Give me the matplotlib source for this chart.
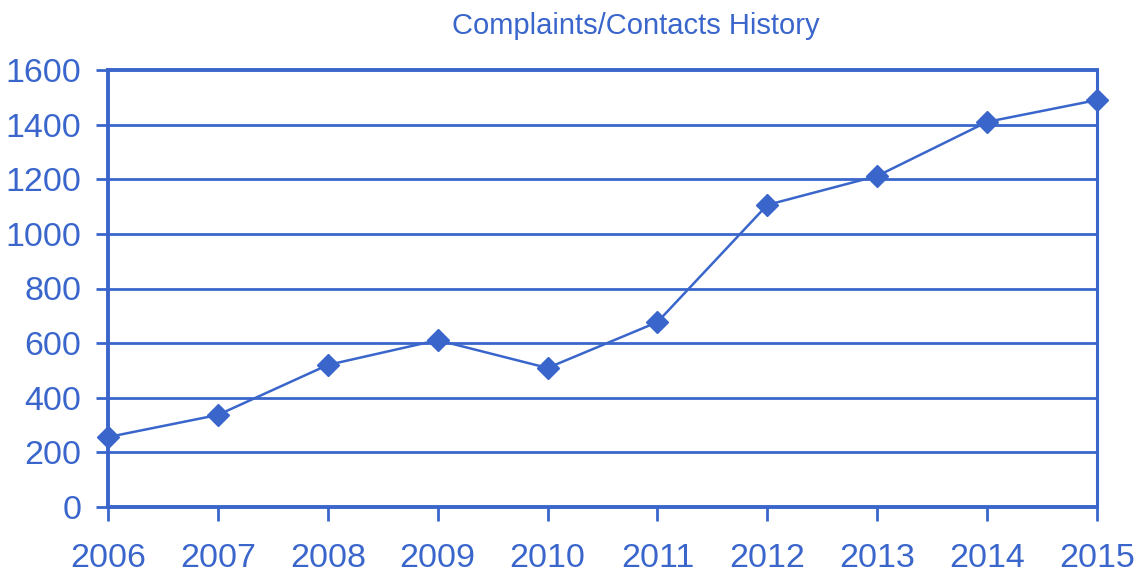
import numpy as np
import matplotlib.pyplot as plt

plt.rcParams['font.family'] = ['Liberation Sans', 'DejaVu Sans']

#-----------data
years = [2006, 2007, 2008, 2009, 2010, 2011, 2012, 2013, 2014, 2015]
contacts = [256, 337, 520, 611, 509, 677, 1106, 1212, 1410, 1490]
y_ticks = [0, 200, 400, 600, 800, 1000, 1200, 1400, 1600]

blue = '#3a66cc'

#-----------figure
fig = plt.figure(figsize=(11.41, 5.77), dpi=100)
ax = fig.add_axes([108 / 1141, 70 / 577, (1097 - 108) / 1141, (507 - 70) / 577])

ax.plot(years, contacts, color=blue, linewidth=1.8, marker='D', markersize=11,
        markerfacecolor=blue, markeredgecolor=blue, clip_on=False, zorder=3)

ax.set_xlim(years[0], years[-1])
ax.set_ylim(0, 1600)
ax.set_xticks(years)
ax.set_yticks(y_ticks)

# grid lines
for v in y_ticks[1:-1]:
    ax.axhline(v, color=blue, linewidth=2.0, zorder=1)

for side in ['left', 'bottom', 'top']:
    ax.spines[side].set_color(blue)
    ax.spines[side].set_linewidth(2.8)
ax.spines['right'].set_color(blue)
ax.spines['right'].set_linewidth(2.2)

ax.tick_params(axis='y', colors=blue, labelsize=24.5, length=9, width=2.0, direction='out', pad=10)
ax.tick_params(axis='x', colors=blue, labelsize=24.5, length=10, width=2.0, direction='out', pad=16)

# title sits a bit right of the plot centre in the original
ax.set_title('Complaints/Contacts History', color=blue, fontsize=21, pad=26, x=0.534)

fig.savefig('out.png', dpi=100)
